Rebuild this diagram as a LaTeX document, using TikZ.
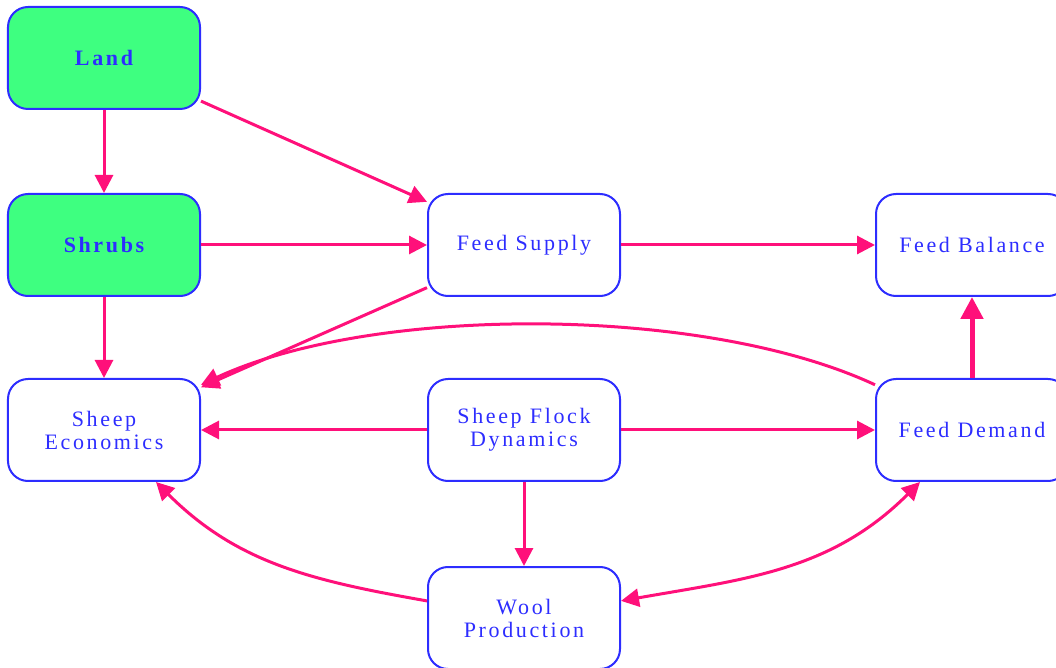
\documentclass[tikz,border=0pt]{standalone}
\usepackage{fontspec}
\setmainfont{Liberation Serif}[LetterSpace=12]
\usetikzlibrary{positioning,arrows.meta}
\definecolor{nodeblue}{RGB}{45,45,255}
\definecolor{landgreen}{RGB}{62,255,128}
\definecolor{arrowpink}{RGB}{255,16,122}

\begin{document}
\begin{tikzpicture}[
      font=\fontsize{11}{11.5}\selectfont,
      box/.style={draw=nodeblue, line width=1pt, rounded corners=10pt, align=center,
        text=nodeblue, minimum width=96pt, minimum height=51pt},
      soil/.style={box, fill=landgreen, font=\fontsize{11}{11.5}\selectfont\bfseries},
      line/.style={-{Triangle[length=9pt,width=9pt]}, line width=1.5pt, draw=arrowpink},
      fatline/.style={-{Triangle[length=11pt,width=11pt]}, line width=2.5pt, draw=arrowpink}
    ]
    \useasboundingbox (-52pt,29pt) rectangle (476pt,-305pt);

    \node[soil] (land) at (0,0) {Land};
    \node[soil, below=41.5pt of land] (shrubs) {Shrubs};
    \node[box, right=113pt of shrubs] (supply) {Feed Supply};
    \node[box, right=127pt of supply] (balance) {Feed Balance};
    \node[box, below=40.5pt of shrubs] (econ) {Sheep\\Economics};
    \node[box, right=113pt of econ] (flock) {Sheep Flock\\Dynamics};
    \node[box, below=40.5pt of balance] (demand) {Feed Demand};
    \node[box, below=42pt of flock] (wool) {Wool\\Production};

    \draw[line] (land) -- (shrubs);
    \draw[line] (land) -- (supply);
    \draw[line] (shrubs) -- (supply);
    \draw[line] (shrubs) -- (econ);
    \draw[line] (supply) -- (balance);
    \draw[line] (supply) -- (econ);
    \draw[line] (demand) to[out=155, in=25, looseness=0.72] (econ);
    \draw[line] (flock) -- (econ);
    \draw[line] (flock) -- (demand);
    \draw[line] (flock) -- (wool);
    \draw[fatline] (demand) -- (balance);
    \draw[line] (wool) to[out=170, in=-45] (econ);
    \draw[line, {Triangle[length=9pt,width=9pt]}-{Triangle[length=9pt,width=9pt]}] (wool) to[out=10, in=-135] (demand);
  \end{tikzpicture}
\end{document}
